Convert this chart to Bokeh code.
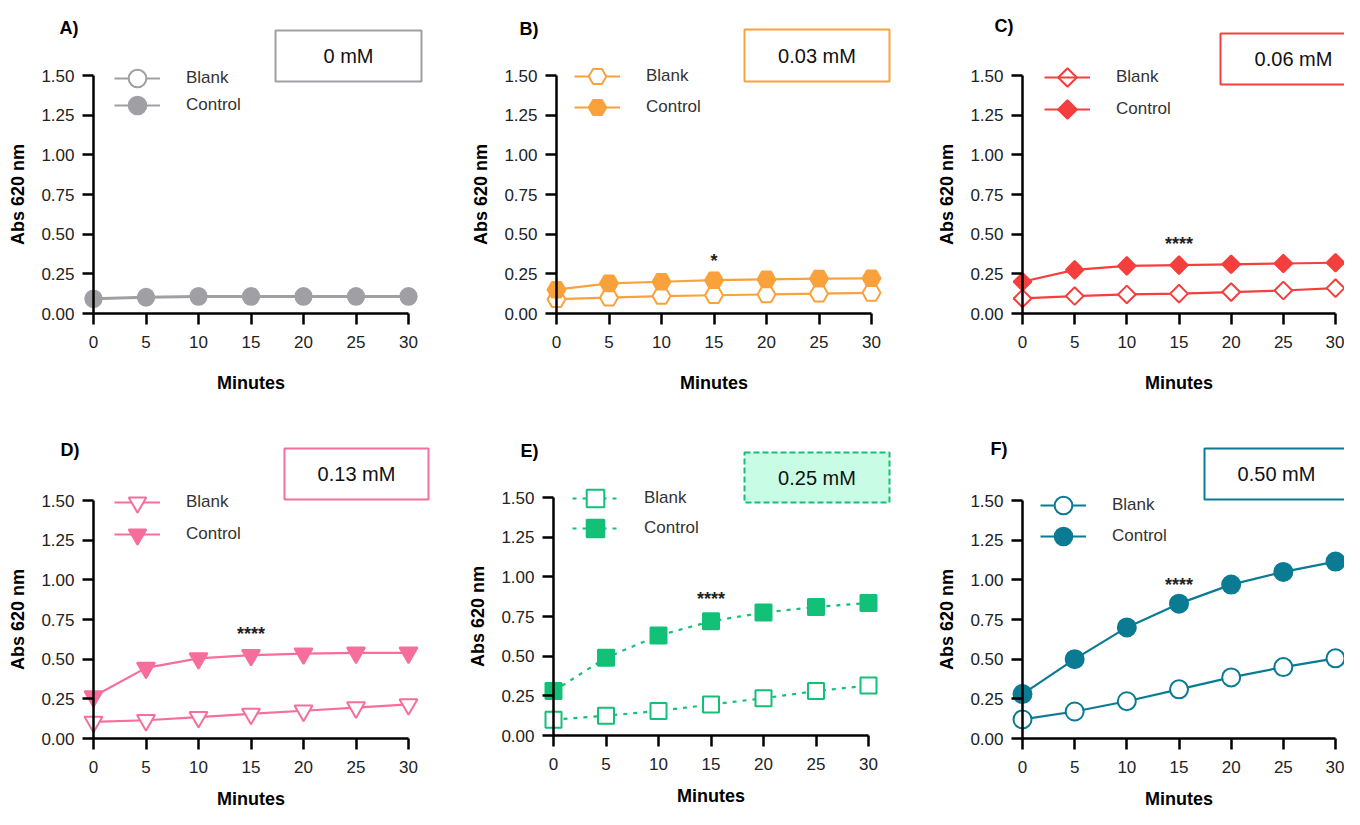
from bokeh.plotting import figure
from bokeh.models import Range1d, FixedTicker, NumeralTickFormatter, Legend, LegendItem
from bokeh.layouts import column, row
from bokeh.embed import file_html
from bokeh.resources import INLINE
from bokeh.core.properties import value
import math

# ---------------- data ----------------
minutes = [0, 5, 10, 15, 20, 25, 30]
x_ticks = [0, 5, 10, 15, 20, 25, 30]
y_ticks = [0.0, 0.25, 0.5, 0.75, 1.0, 1.25, 1.5]
series_names = ["Blank", "Control"]
panel_letters = ["A)", "B)", "C)", "D)", "E)", "F)"]
concentrations = ["0 mM", "0.03 mM", "0.06 mM", "0.13 mM", "0.25 mM", "0.50 mM"]

blank_0 = [0.09, 0.10, 0.105, 0.105, 0.105, 0.105, 0.105]
control_0 = [0.095, 0.105, 0.11, 0.11, 0.11, 0.11, 0.11]
blank_003 = [0.09, 0.10, 0.11, 0.115, 0.12, 0.125, 0.13]
control_003 = [0.15, 0.19, 0.20, 0.21, 0.215, 0.22, 0.222]
blank_006 = [0.095, 0.11, 0.12, 0.125, 0.135, 0.145, 0.16]
control_006 = [0.20, 0.275, 0.30, 0.305, 0.31, 0.315, 0.32]
blank_013 = [0.105, 0.115, 0.135, 0.155, 0.175, 0.195, 0.215]
control_013 = [0.265, 0.445, 0.505, 0.525, 0.535, 0.54, 0.54]
blank_025 = [0.10, 0.125, 0.155, 0.195, 0.235, 0.28, 0.315]
control_025 = [0.28, 0.49, 0.63, 0.72, 0.775, 0.81, 0.835]
blank_050 = [0.12, 0.17, 0.235, 0.31, 0.385, 0.45, 0.505]
control_050 = [0.28, 0.50, 0.70, 0.85, 0.97, 1.05, 1.115]

blank_series = [blank_0, blank_003, blank_006, blank_013, blank_025, blank_050]
control_series = [control_0, control_003, control_006, control_013, control_025, control_050]

significance = ["", "*", "****", "****", "****", "****"]
sig_minute = [15, 15, 15, 15, 15, 15]
sig_level = [0.0, 0.33, 0.44, 0.66, 0.86, 0.965]

# ---------------- styles ----------------
colors = ["#a0a0a4", "#f9a23c", "#f53e3e", "#f66e9b", "#12c077", "#0a7b93"]
markers = ["circle", "hex", "square", "inverted_triangle", "square", "circle"]
marker_angles = [0, 0, math.pi / 4, 0, 0, 0]
marker_sizes = [16, 18, 12.5, 18, 16, 18]
line_dashes = ["solid", "solid", "solid", "solid", "4 6", "solid"]
box_dashes = ["solid", "solid", "solid", "solid", "6 3", "solid"]
box_fills = ["white", "white", "white", "white", "#c8fce4", "white"]

FONT = "Liberation Sans"

# ---------------- layout (canvas pixels) ----------------
fig_geom = [(0, 0, 462, 410), (462, 0, 470, 410), (932, 0, 412, 410),
            (0, 410, 462, 399), (462, 410, 470, 399), (932, 410, 412, 399)]
axis_px = [(93, 408, 313, 75), (556, 871, 313, 75), (1022, 1335, 313, 75),
           (93, 408, 738, 500), (553, 868, 735, 497), (1022, 1335, 738, 500)]
xlabel_standoff = [22, 22, 22, 13, 13, 13]
legend_px = [(21, 3, 30), (18, 1, 32), (22, 2, 34),
             (21, 2, 34), (19, 1, 31), (18, 5, 36)]
box_px = [(182, 328, -45, 6), (188, 333, -46, 6), (198, 344, -42, 9),
          (191, 335, -52, -1), (191, 336, -45, 5), (182, 326, -52, -1)]
label_px = [(-34, -48), (-37, -47), (-28, -50), (-33, -51), (-33, -47), (-32, -52)]

GW, GH = 46, 44


def make_panel(i):
    L, T, W, H = fig_geom[i]
    x0p, x30p, y0p, y150p = axis_px[i]
    pxu = (x30p - x0p) / 30.0
    pyu = (y0p - y150p) / 1.5

    def dx(px):
        return (px - x0p) / pxu

    def dy(py):
        return (y0p - py) / pyu

    p = figure(width=W, height=H, x_range=Range1d(dx(L), dx(L + W)),
               y_range=Range1d(dy(T + H), dy(T)), output_backend="svg",
               toolbar_location=None, min_border=0)
    p.grid.visible = False
    p.outline_line_color = None
    p.background_fill_color = "white"
    p.border_fill_color = "white"

    for ax in (p.xaxis[0], p.yaxis[0]):
        ax.fixed_location = 0
        ax.axis_line_width = 2.5
        ax.axis_line_color = "black"
        ax.major_tick_line_width = 2.5
        ax.major_tick_line_color = "black"
        ax.major_tick_in = 0
        ax.major_tick_out = 11
        ax.minor_tick_line_color = None
        ax.major_label_text_font = FONT
        ax.major_label_text_font_size = "17px"
        ax.major_label_text_color = "#222222"
        ax.axis_label_text_font = FONT
        ax.axis_label_text_font_style = "bold"
        ax.axis_label_text_font_size = "18px"
        ax.axis_label_text_color = "black"
    xa = p.xaxis[0]
    xa.ticker = FixedTicker(ticks=x_ticks)
    xa.bounds = (0, 30)
    xa.axis_label = "Minutes"
    xa.major_label_standoff = 11
    xa.axis_label_standoff = xlabel_standoff[i]
    ya = p.yaxis[0]
    ya.ticker = FixedTicker(ticks=y_ticks)
    ya.formatter = NumeralTickFormatter(format="0.00")
    ya.bounds = (0, 1.5)
    ya.axis_label = "Abs 620 nm"
    ya.major_label_standoff = 8
    ya.axis_label_standoff = 10

    c = colors[i]
    renderers = []
    for name, ys, fill in ((series_names[0], blank_series[i], "white"),
                           (series_names[1], control_series[i], c)):
        lr = p.line(minutes, ys, line_color=c, line_width=2.2, line_dash=line_dashes[i])
        sr = p.scatter(minutes, ys, marker=markers[i], size=marker_sizes[i],
                       angle=marker_angles[i], fill_color=fill, line_color=c, line_width=2)
        renderers.append((name, lr, sr, fill))

    # significance marks
    if significance[i]:
        p.text(x=[sig_minute[i]], y=[sig_level[i]], text=[significance[i]],
               text_font=value(FONT), text_font_size="18px", text_font_style="bold",
               text_color="#222222", text_align="center", text_baseline="middle")

    # concentration box
    bl, br, bt, bb = box_px[i]
    p.quad(left=[dx(x0p + bl)], right=[dx(x0p + br)], top=[dy(y150p + bt)],
           bottom=[dy(y150p + bb)], fill_color=box_fills[i], line_color=c,
           line_width=2, line_dash=box_dashes[i])
    p.text(x=[dx(x0p + (bl + br) / 2)], y=[dy(y150p + (bt + bb) / 2)], text=[concentrations[i]],
           text_font=value(FONT), text_font_size="20px", text_color="#111111",
           text_align="center", text_baseline="middle")

    # panel letter
    lx, ly = label_px[i]
    p.text(x=[dx(x0p + lx)], y=[dy(y150p + ly)], text=[panel_letters[i]],
           text_font=value(FONT), text_font_size="18px", text_font_style="bold",
           text_color="black", text_align="left", text_baseline="middle")

    # legends
    ldx, ldb, ldc = legend_px[i]
    for (name, lr, sr, fill), offs in zip(renderers, (ldb, ldc)):
        cy = y150p + offs
        loc = (x0p + ldx - L, (T + H) - (cy + GH / 2))
        if marker_angles[i] != 0:
            # legend glyphs ignore the marker angle: draw the sample marker on top
            item_renderers = [lr]
            p.scatter([dx(x0p + ldx + GW / 2)], [dy(cy)], marker=markers[i],
                      size=marker_sizes[i] * 1.05, angle=marker_angles[i],
                      fill_color=fill, line_color=c, line_width=2)
        else:
            item_renderers = [lr, sr]
        leg = Legend(items=[LegendItem(label=name, renderers=item_renderers)],
                     location=loc, glyph_width=GW, glyph_height=GH,
                     label_standoff=26, padding=0, margin=0, spacing=0,
                     border_line_alpha=0, background_fill_alpha=0,
                     label_text_font=FONT, label_text_font_size="17px",
                     label_text_color="#333333")
        p.add_layout(leg)
    return p


panels = [make_panel(i) for i in range(6)]
layout = column(row(*panels[:3]), row(*panels[3:]))
open("out.html", "w").write(file_html(layout, INLINE))
